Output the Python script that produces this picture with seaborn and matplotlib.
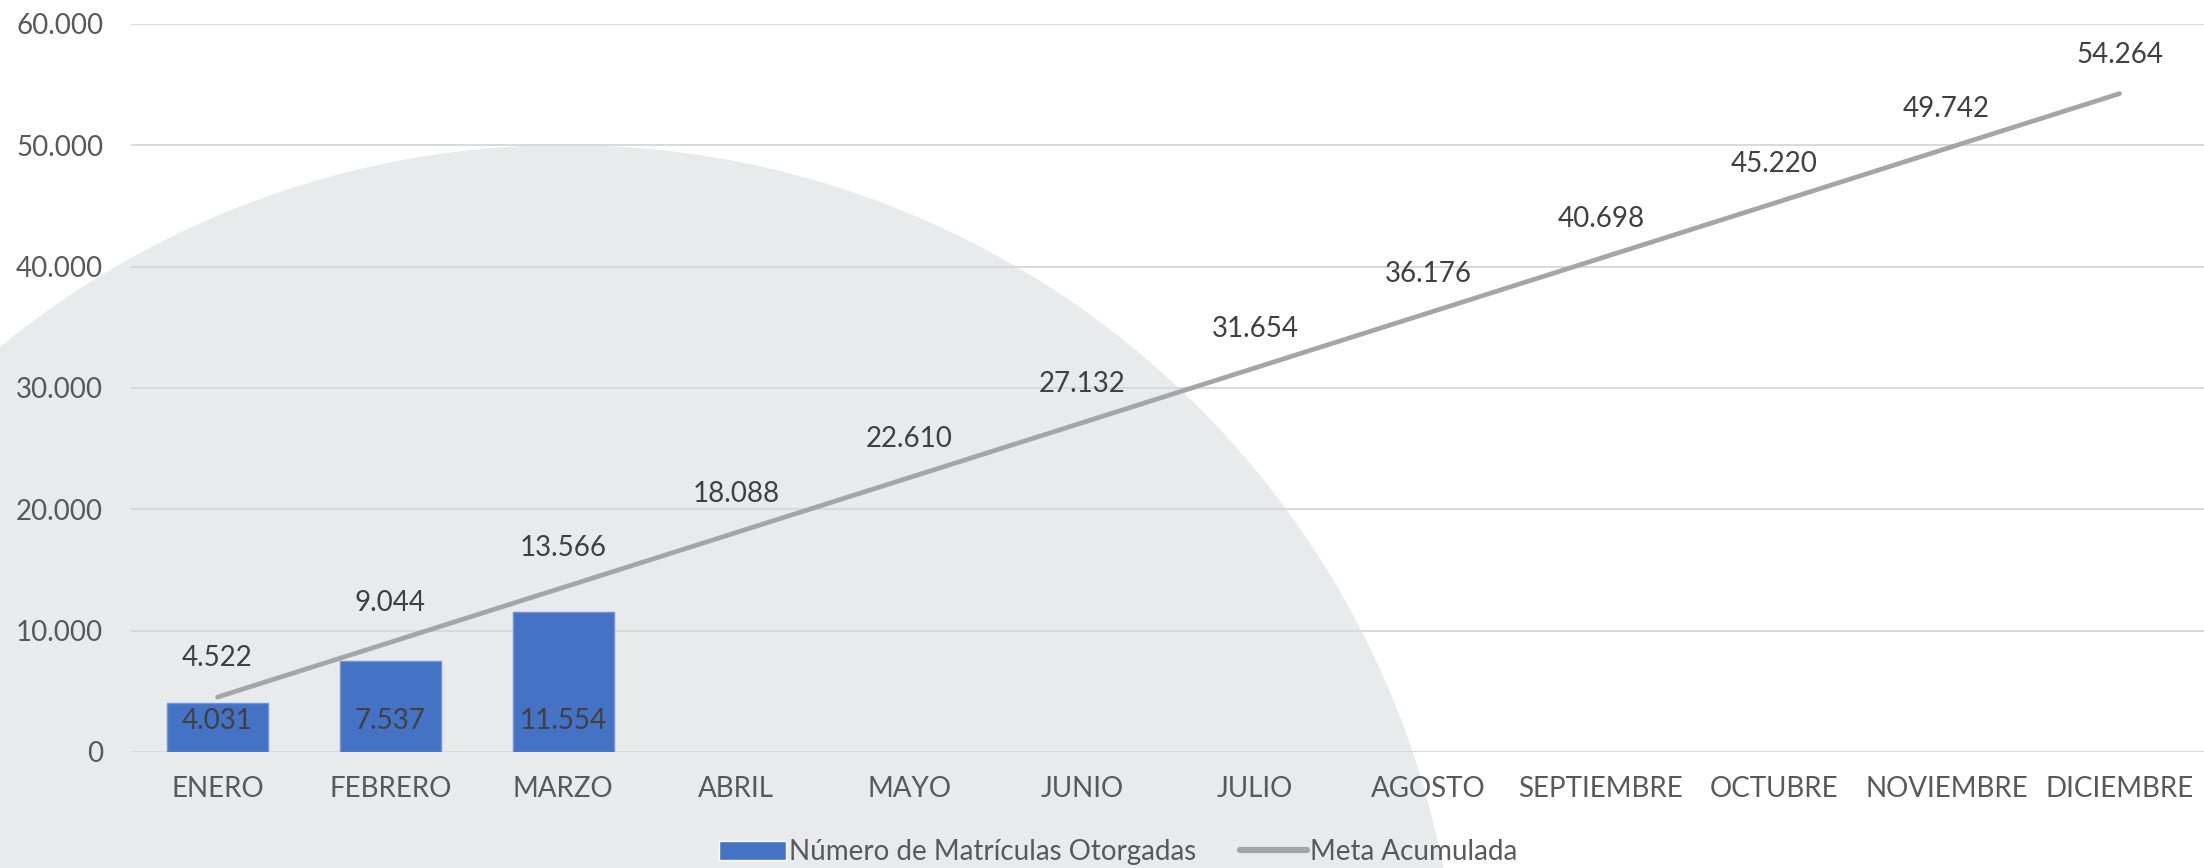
import matplotlib
matplotlib.use('Agg')
import matplotlib.pyplot as plt
from matplotlib.patches import Ellipse, Patch
from matplotlib.lines import Line2D
import seaborn as sns

# chart data
months = ['ENERO', 'FEBRERO', 'MARZO', 'ABRIL', 'MAYO', 'JUNIO', 'JULIO',
          'AGOSTO', 'SEPTIEMBRE', 'OCTUBRE', 'NOVIEMBRE', 'DICIEMBRE']
matriculas = [4031, 7537, 11554]
meta_acumulada = [4522, 9044, 13566, 18088, 22610, 27132, 31654,
                  36176, 40698, 45220, 49742, 54264]
y_ticks = [0, 10000, 20000, 30000, 40000, 50000, 60000]

bar_label = 'Número de Matrículas Otorgadas'
line_label = 'Meta Acumulada'


def fmt(value):
    """Thousands with a dot, as in the original chart."""
    return f'{value:,}'.replace(',', '.')


sns.set_style('white')
plt.rcParams['font.family'] = ['Lato', 'DejaVu Sans']

W, H = 2204, 868
fig = plt.figure(figsize=(W / 100, H / 100), dpi=100)

# decorative grey disc behind the plot
disc_r = 894
disc = Ellipse((566 / W, 1 - 1039 / H), 2 * disc_r / W, 2 * disc_r / H,
               transform=fig.transFigure, facecolor='#E9EAEC',
               edgecolor='none', zorder=0)
fig.patches.append(disc)

ax = fig.add_axes([131 / W, 1 - 752 / H, 2075 / W, 728 / H])
ax.set_zorder(2)
ax.set_facecolor('none')

sns.barplot(x=months[:3], y=matriculas, order=months, color='#4472C4',
            width=0.585, saturation=1, ax=ax, zorder=2,
            edgecolor='#6F93D3', linewidth=1)
sns.lineplot(x=list(range(len(months))), y=meta_acumulada, color='#A5A5A5',
             linewidth=3.4, ax=ax, zorder=3, solid_capstyle='round')

ax.set_xlim(-0.5, len(months) - 0.5)
ax.set_ylim(0, 60000)
ax.set_yticks(y_ticks)
ax.set_yticklabels([fmt(v) for v in y_ticks])
ax.set_xticks(range(len(months)))
ax.set_xticklabels(months)
ax.tick_params(axis='y', length=0, pad=20, labelsize=20, labelcolor='#595959')
ax.tick_params(axis='x', length=0, pad=17, labelsize=20, labelcolor='#595959')
ax.set(xlabel='', ylabel='')
ax.grid(axis='y', color='#D9D9D9', linewidth=1.4, zorder=1)
ax.set_axisbelow(True)
for spine in ax.spines.values():
    spine.set_visible(False)

# value labels: inside base of bars, above the line points
for bar, value in zip(ax.patches, matriculas):
    ax.annotate(fmt(value), (bar.get_x() + bar.get_width() / 2, 0),
                xytext=(0, 31), textcoords='offset pixels',
                ha='center', va='center', fontsize=20, color='#404040',
                zorder=4)
for i, value in enumerate(meta_acumulada):
    ax.annotate(fmt(value), (i, value), xytext=(0, 39),
                textcoords='offset pixels', ha='center', va='center',
                fontsize=20, color='#404040', zorder=4)

handles = [Patch(facecolor='#4472C4', label=bar_label),
           Line2D([], [], color='#A5A5A5', linewidth=4.5,
                  solid_capstyle='round', label=line_label)]
leg = fig.legend(handles=handles, loc='center', ncol=2,
                 bbox_to_anchor=(1118 / W, 1 - 852 / H), frameon=False,
                 fontsize=20, labelcolor='#595959', handlelength=2.4,
                 handleheight=0.7, handletextpad=0.1, columnspacing=1.6)
leg.set_zorder(3)

fig.savefig('out.png', dpi=100)
